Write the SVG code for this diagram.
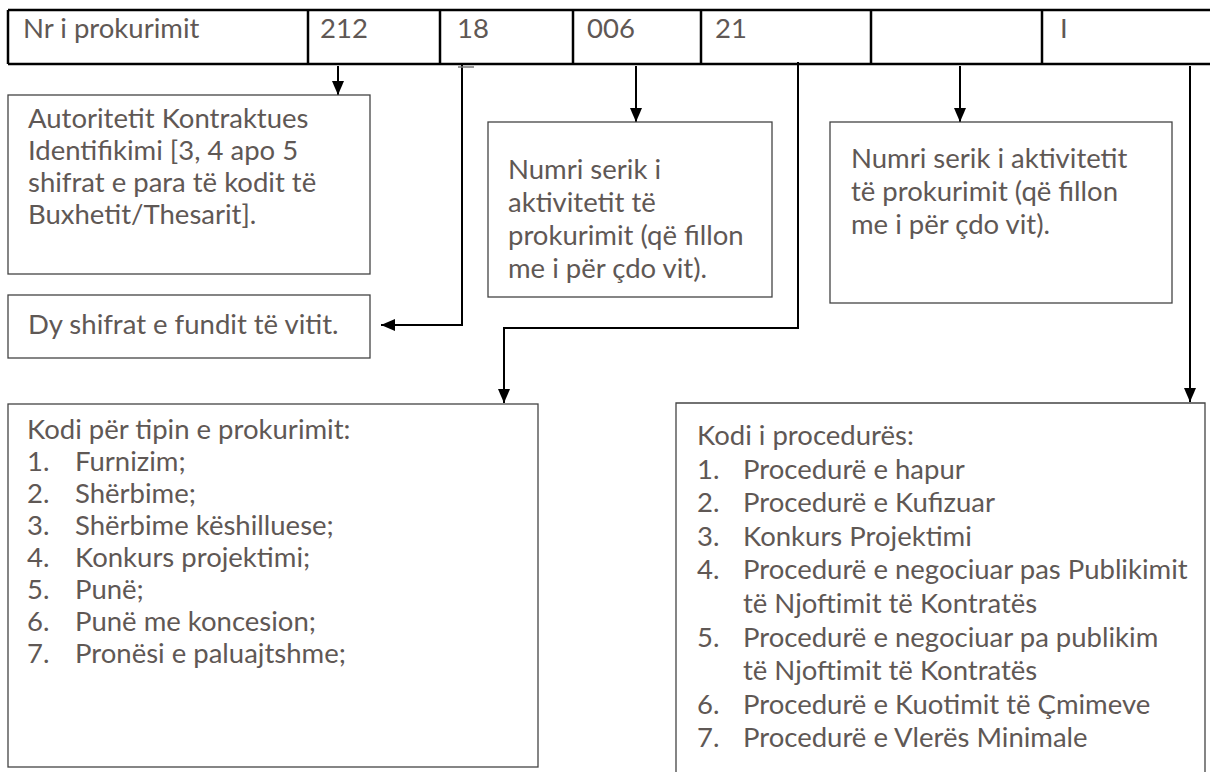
<svg xmlns="http://www.w3.org/2000/svg" width="1210" height="772" viewBox="0 0 1210 772">
<defs>
<style>
.t{font-family:Lato,"Liberation Sans",sans-serif;font-size:27.5px;fill:#5f5855}
.tbl{stroke:#000;stroke-width:2.5;fill:none}
.box{fill:#fff;stroke:#444;stroke-width:1.3}
.con{stroke:#000;stroke-width:2;fill:none}
</style>
<marker id="ah" markerUnits="userSpaceOnUse" markerWidth="14" markerHeight="14" viewBox="0 0 14 14" refX="14" refY="7" orient="auto">
<path d="M0,1 L14,7 L0,13 z" fill="#000"/>
</marker>
</defs>
<rect width="1210" height="772" fill="#fff"/>
<g id="table">
<path class="tbl" d="M8,10 H1210 M8,64 H1210 M8,10 V64 M308,10 V64 M440,10 V64 M573,10 V64 M701,10 V64 M871,10 V64 M1042,10 V64"/>
<text class="t" x="23" y="38">Nr i prokurimit</text>
<text class="t" x="320" y="38">212</text>
<text class="t" x="457" y="38">18</text>
<text class="t" x="587" y="38">006</text>
<text class="t" x="715" y="38">21</text>
<text class="t" x="1060" y="38">I</text>
</g>
<g id="connectors">
<line class="con" x1="338" y1="66" x2="338" y2="95" marker-end="url(#ah)"/>
<path class="con" d="M462,64 V325 H381" marker-end="url(#ah)"/>
<line x1="458" y1="67" x2="474" y2="67" stroke="#777" stroke-width="1.5"/>
<line class="con" x1="636" y1="66" x2="636" y2="122" marker-end="url(#ah)"/>
<path class="con" d="M798,62 V328 H504 V403" marker-end="url(#ah)"/>
<line class="con" x1="960" y1="66" x2="960" y2="122" marker-end="url(#ah)"/>
<line class="con" x1="1190" y1="66" x2="1190" y2="402" marker-end="url(#ah)"/>
</g>
<g id="node-autoritet">
<rect class="box" x="8" y="95" width="362" height="179"/>
<text class="t" x="28" y="128">Autoritetit Kontraktues</text>
<text class="t" x="28" y="160">Identifikimi [3, 4 apo 5</text>
<text class="t" x="28" y="192">shifrat e para të kodit të</text>
<text class="t" x="28" y="224">Buxhetit/Thesarit].</text>
</g>
<g id="node-viti">
<rect class="box" x="8" y="295" width="362" height="63"/>
<text class="t" x="28" y="334">Dy shifrat e fundit të vitit.</text>
</g>
<g id="node-serik1">
<rect class="box" x="488" y="122" width="284" height="175"/>
<text class="t" x="508" y="179">Numri serik i</text>
<text class="t" x="508" y="212">aktivitetit të</text>
<text class="t" x="508" y="245">prokurimit (që fillon</text>
<text class="t" x="508" y="278">me i për çdo vit).</text>
</g>
<g id="node-serik2">
<rect class="box" x="830" y="122" width="342" height="181"/>
<text class="t" x="851" y="168">Numri serik i aktivitetit</text>
<text class="t" x="851" y="201">të prokurimit (që fillon</text>
<text class="t" x="851" y="234">me i për çdo vit).</text>
</g>
<g id="node-tipi">
<rect class="box" x="8" y="404" width="530" height="363"/>
<text class="t" x="27" y="439">Kodi për tipin e prokurimit:</text>
<text class="t" x="27" y="471">1.</text><text class="t" x="75" y="471">Furnizim;</text>
<text class="t" x="27" y="503">2.</text><text class="t" x="75" y="503">Shërbime;</text>
<text class="t" x="27" y="535">3.</text><text class="t" x="75" y="535">Shërbime këshilluese;</text>
<text class="t" x="27" y="567">4.</text><text class="t" x="75" y="567">Konkurs projektimi;</text>
<text class="t" x="27" y="599">5.</text><text class="t" x="75" y="599">Punë;</text>
<text class="t" x="27" y="631">6.</text><text class="t" x="75" y="631">Punë me koncesion;</text>
<text class="t" x="27" y="663">7.</text><text class="t" x="75" y="663">Pronësi e paluajtshme;</text>
</g>
<g id="node-procedura">
<path class="box" d="M676,772 V403 H1205 V772"/>
<text class="t" x="697" y="445">Kodi i procedurës:</text>
<text class="t" x="697" y="479">1.</text><text class="t" x="743" y="479">Procedurë e hapur</text>
<text class="t" x="697" y="512">2.</text><text class="t" x="743" y="512">Procedurë e Kufizuar</text>
<text class="t" x="697" y="546">3.</text><text class="t" x="743" y="546">Konkurs Projektimi</text>
<text class="t" x="697" y="579">4.</text><text class="t" x="743" y="579">Procedurë e negociuar pas Publikimit</text>
<text class="t" x="743" y="613">të Njoftimit të Kontratës</text>
<text class="t" x="697" y="647">5.</text><text class="t" x="743" y="647">Procedurë e negociuar pa publikim</text>
<text class="t" x="743" y="680">të Njoftimit të Kontratës</text>
<text class="t" x="697" y="714">6.</text><text class="t" x="743" y="714">Procedurë e Kuotimit të Çmimeve</text>
<text class="t" x="697" y="747">7.</text><text class="t" x="743" y="747">Procedurë e Vlerës Minimale</text>
</g>
</svg>
